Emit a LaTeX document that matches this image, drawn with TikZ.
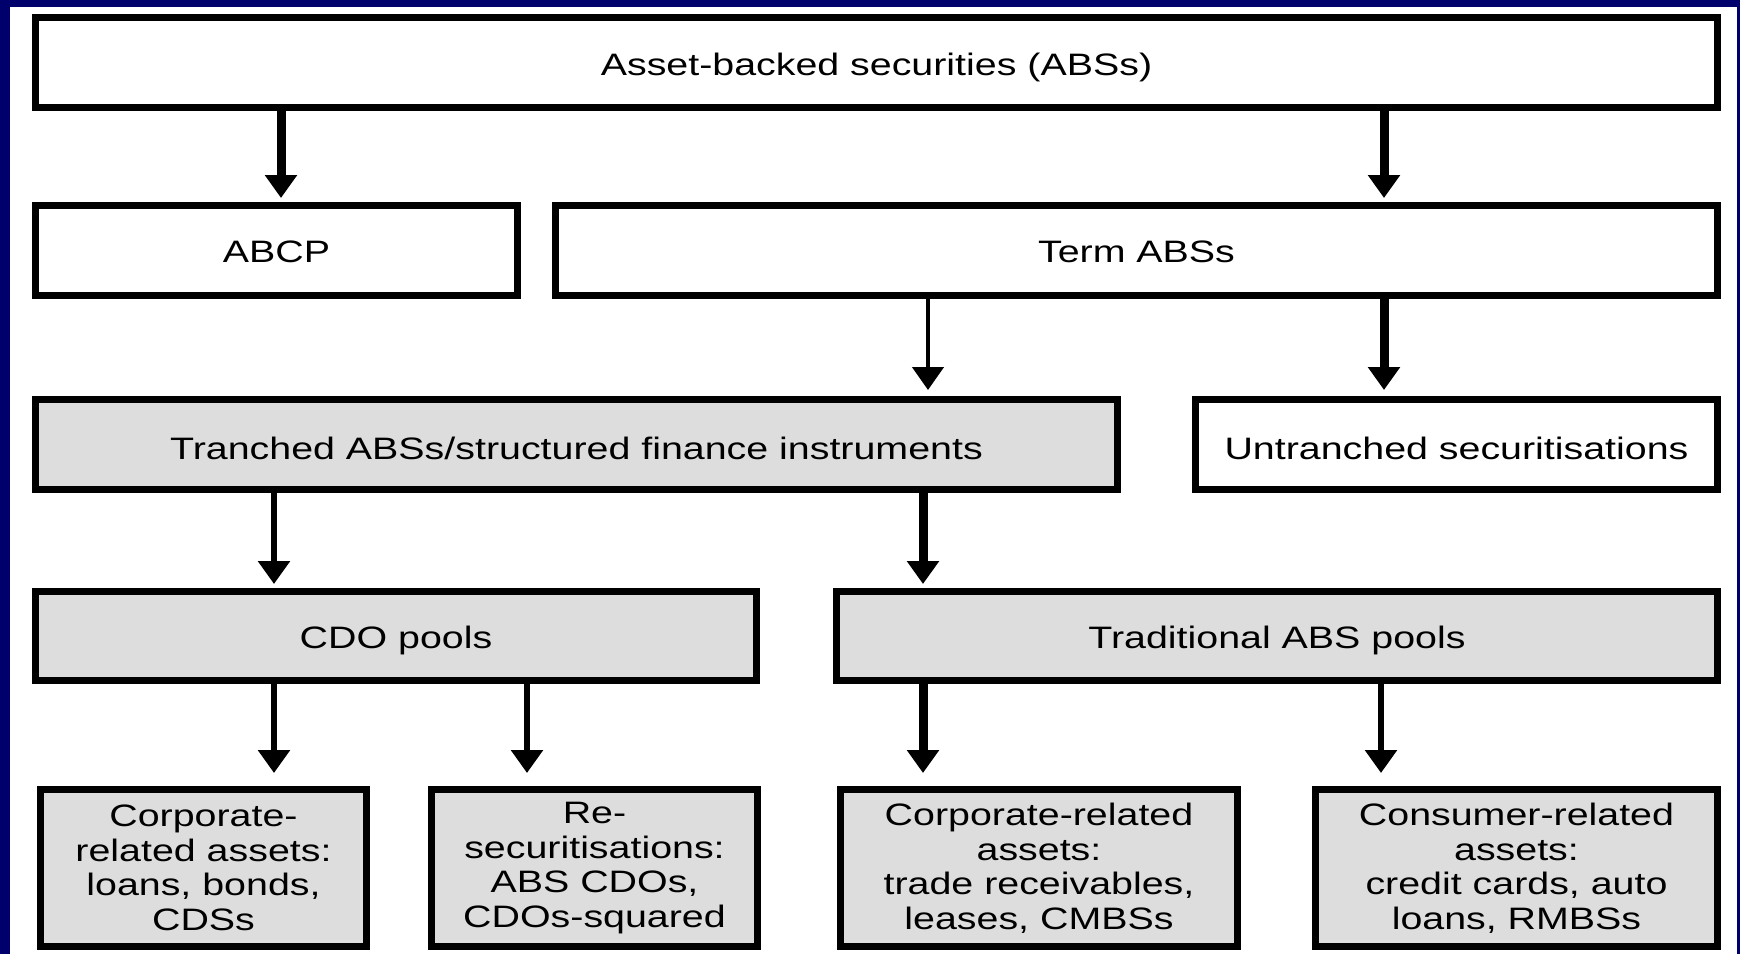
\documentclass[tikz,border=0pt]{standalone}
\usepackage{fontspec}
\setmainfont{Liberation Sans}[FakeStretch=1.27]
\usetikzlibrary{arrows.meta}
\definecolor{navyframe}{RGB}{0,0,108}
\definecolor{boxgray}{RGB}{221,221,221}
\tikzset{
  box/.style={draw=black, line width=7pt, inner sep=0pt, anchor=north west,
    font=\fontsize{31}{33}\selectfont, text height=22.2pt, text depth=0pt},
  lowtext/.style={text height=30pt},
  grayfill/.style={fill=boxgray},
  whitefill/.style={fill=white},
  multibox/.style={draw=black, line width=7pt, inner sep=0pt, anchor=north west,
    fill=boxgray, align=center, font=\fontsize{31}{34.5}\selectfont},
  arrbase/.style={draw=black, line cap=butt, -{Triangle[width=31pt,length=23pt]}},
  arrthick/.style={arrbase, line width=9pt},
  arrmid/.style={arrbase, line width=6pt},
  arrthin/.style={arrbase, line width=4.5pt}
}
\begin{document}
\begin{tikzpicture}[x=1pt,y=-1pt]
\useasboundingbox (0,0) rectangle (1740,954);
\fill[navyframe] (0,0) rectangle (1740,954);
\fill[white] (10,7) rectangle (1737,954);

\node[box, whitefill, text height=25pt, minimum width=1682pt, minimum height=90pt] (top) at (32,14) {Asset-backed securities (ABSs)};
\node[box, whitefill, text height=24pt, minimum width=482pt, minimum height=90pt] (abcp) at (32,202) {ABCP};
\node[box, whitefill, text height=24pt, minimum width=1162pt, minimum height=90pt] (term) at (552,202) {Term ABSs};
\node[box, grayfill, lowtext, minimum width=1082pt, minimum height=90pt] (tranched) at (32,396) {Tranched ABSs/structured finance instruments};
\node[box, whitefill, lowtext, minimum width=522pt, minimum height=90pt] (untranched) at (1192,396) {Untranched securitisations};
\node[box, grayfill, text height=24pt, minimum width=721pt, minimum height=89pt] (cdo) at (32,588) {CDO pools};
\node[box, grayfill, text height=24pt, minimum width=881pt, minimum height=89pt] (trad) at (833,588) {Traditional ABS pools};

\node[multibox, minimum width=326pt, minimum height=157pt] (b1) at (37,786) {Corporate-\\related assets:\\loans, bonds,\\CDSs};
\node[multibox, minimum width=326pt, minimum height=157pt] (b2) at (428,786) {Re-\\securitisations:\\ABS CDOs,\\CDOs-squared};
\node[multibox, minimum width=397pt, minimum height=157pt] (b3) at (837,786) {Corporate-related\\assets:\\trade receivables,\\leases, CMBSs};
\node[multibox, minimum width=402pt, minimum height=157pt] (b4) at (1312,786) {Consumer-related\\assets:\\credit cards, auto\\loans, RMBSs};

\draw[arrthick, shorten >=4pt] (top.south -| 281,0) -- (abcp.north -| 281,0);
\draw[arrthick, shorten >=4pt] (top.south -| 1384,0) -- (term.north -| 1384,0);
\draw[arrthin, shorten >=6pt] (term.south -| 928,0) -- (tranched.north -| 928,0);
\draw[arrthick, shorten >=6pt] (term.south -| 1384,0) -- (untranched.north -| 1384,0);
\draw[arrmid, shorten >=4pt] (tranched.south -| 274,0) -- (cdo.north -| 274,0);
\draw[arrthick, shorten >=4pt] (tranched.south -| 923,0) -- (trad.north -| 923,0);
\draw[arrmid, shorten >=13pt] (cdo.south -| 274,0) -- (b1.north -| 274,0);
\draw[arrmid, shorten >=13pt] (cdo.south -| 527,0) -- (b2.north -| 527,0);
\draw[arrthick, shorten >=13pt] (trad.south -| 923,0) -- (b3.north -| 923,0);
\draw[arrmid, shorten >=13pt] (trad.south -| 1381,0) -- (b4.north -| 1381,0);
\end{tikzpicture}
\end{document}
